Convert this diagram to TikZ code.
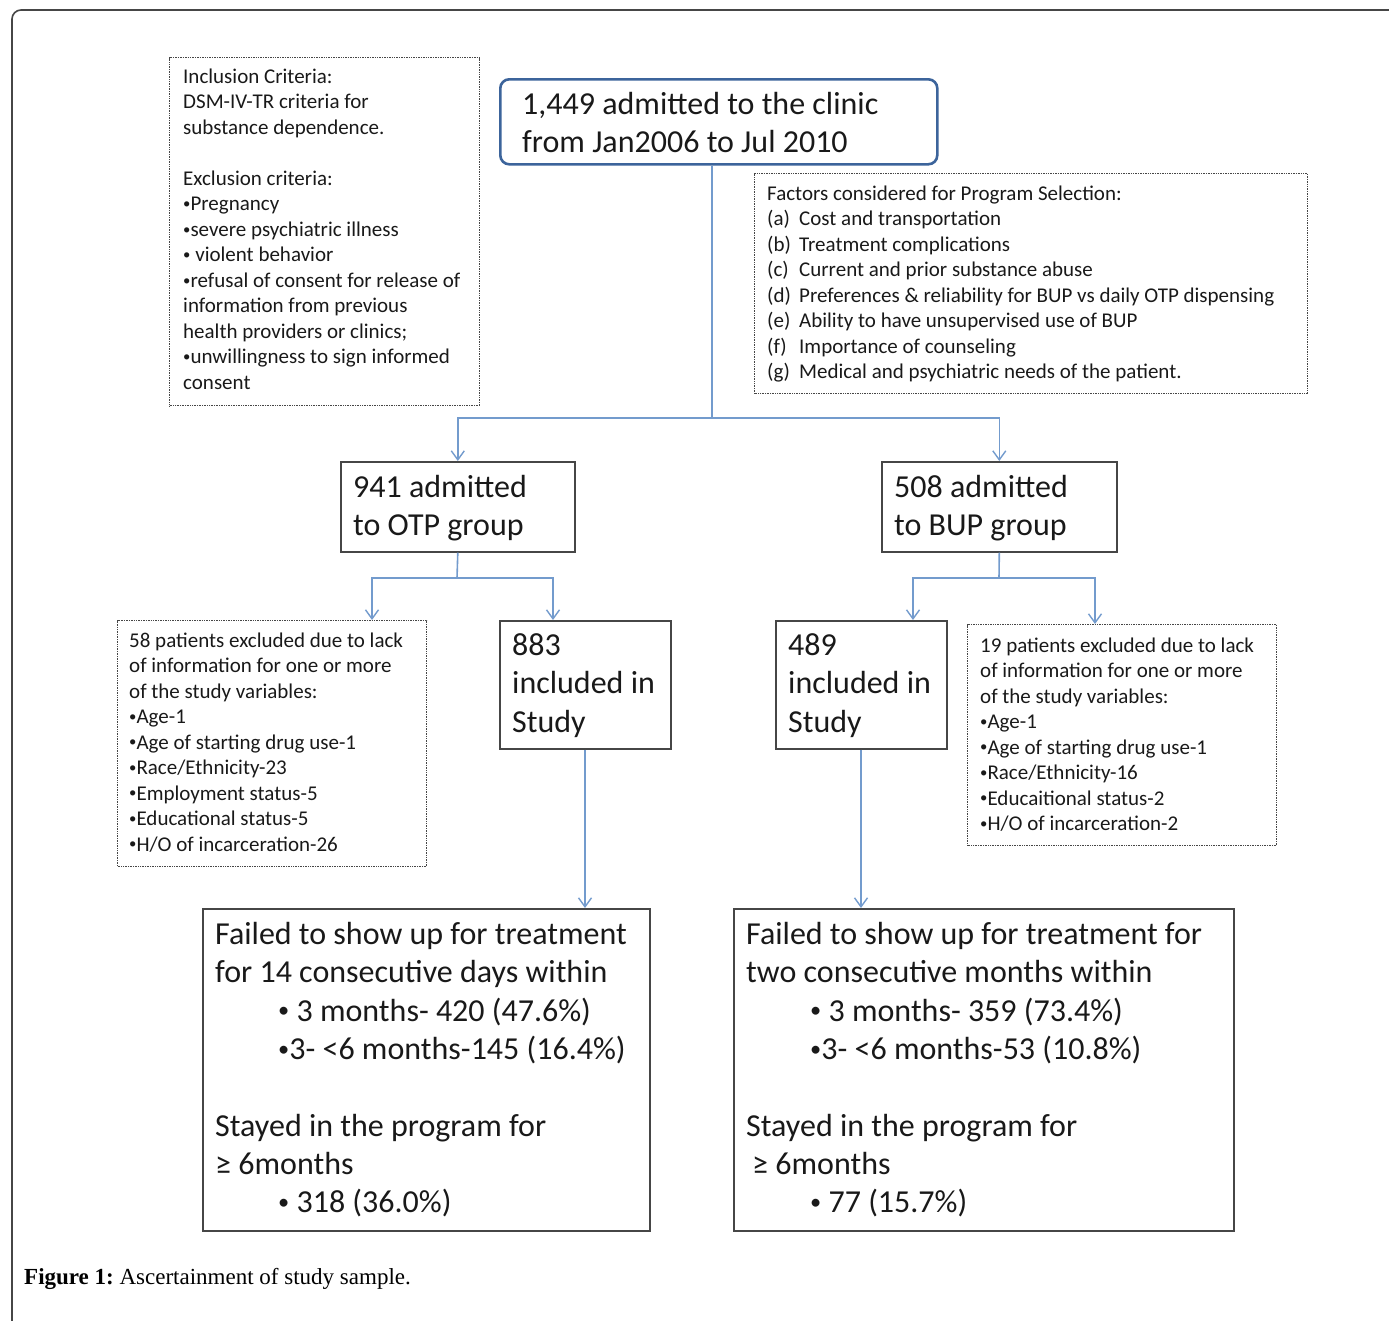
\documentclass[tikz,border=0pt]{standalone}
\usepackage{fontspec}
\usepackage{graphicx}
\setmainfont{Carlito}
\newfontfamily\capfont{Liberation Serif}
\usetikzlibrary{arrows.meta}
\definecolor{connc}{RGB}{115,155,205}
\definecolor{topblue}{RGB}{60,100,155}
\definecolor{boxgray}{RGB}{70,70,70}
\definecolor{txtc}{RGB}{25,25,25}
\newcommand\bl{\raisebox{0.1em}{\scalebox{0.7}{•}}}
\begin{document}
\begin{tikzpicture}[x=1pt,y=-1pt,
 solidbox/.style={draw=boxgray, line width=1.6pt, inner sep=0pt, anchor=north west},
 dotbox/.style={draw=boxgray, line width=1.4pt, dash pattern=on 1pt off 0.7pt, inner sep=0pt, anchor=north west},
 topbox/.style={draw=topblue, line width=2.6pt, rounded corners=9pt, inner sep=0pt, anchor=north west},
 small/.style={text=txtc, inner sep=0pt, anchor=north west, align=left, font=\fontsize{21}{25.5}\selectfont},
 big/.style={text=txtc, inner sep=0pt, anchor=north west, align=left, font=\fontsize{32}{38.3}\selectfont},
 link/.style={draw=connc, line width=1.6pt},
 arr/.style={link, -{Straight Barb[length=9pt,width=13pt,line width=1.4pt]}},
]
\useasboundingbox (0,0) rectangle (1389,1320);
\draw[boxgray, line width=1.6pt, rounded corners=9pt] (1400,10) -- (12,10) -- (12,1330);

% boxes
\node[dotbox, minimum width=310pt, minimum height=348pt] (inc) at (169,57) {};
\node[topbox, minimum width=437pt, minimum height=85pt] (top) at (499,78) {};
\node[dotbox, minimum width=553pt, minimum height=220pt] (fac) at (754,173) {};
\node[solidbox, minimum width=234pt, minimum height=90pt] (otp) at (340,461) {};
\node[solidbox, minimum width=235pt, minimum height=90pt] (bup) at (881,461) {};
\node[dotbox, minimum width=309pt, minimum height=246pt] (exl) at (117,620) {};
\node[solidbox, minimum width=171pt, minimum height=128pt] (inl) at (499,620) {};
\node[solidbox, minimum width=171pt, minimum height=128pt] (inr) at (775,620) {};
\node[dotbox, minimum width=309pt, minimum height=221pt] (exr) at (967,624) {};
\node[solidbox, minimum width=447pt, minimum height=322pt] (resl) at (202,908) {};
\node[solidbox, minimum width=500pt, minimum height=322pt] (resr) at (733,908) {};

% connectors
\coordinate (j0) at (712,418);
\draw[link] (j0 |- top.south) -- (j0);
\draw[arr] (j0) -| (otp.north);
\draw[arr] (j0) -| (bup.north);

\coordinate (j1) at (457,578);
\coordinate (j1l) at (372,578);
\coordinate (j1r) at (553,578);
\draw[link] (otp.south) -- (j1);
\draw[arr] (j1) -- (j1l) -- (j1l |- exl.north);
\draw[arr] (j1) -- (j1r) -- (j1r |- inl.north);

\coordinate (j2) at (999,578);
\coordinate (j2l) at (913,578);
\coordinate (j2r) at (1095,578);
\draw[link] (bup.south) -- (j2);
\draw[arr] (j2) -- (j2l) -- (j2l |- inr.north);
\draw[arr] (j2) -- (j2r) -- (j2r |- exr.north);

\coordinate (c1) at (585,748);
\draw[arr] (c1 |- inl.south) -- (c1 |- resl.north);
\coordinate (c2) at (861,748);
\draw[arr] (c2 |- inr.south) -- (c2 |- resr.north);

% texts
\node[small] (inct) at (183,65.15) {\strut Inclusion Criteria:\\DSM-IV-TR criteria for\\substance dependence.\\\strut\\Exclusion criteria:\\\bl Pregnancy\\\bl severe psychiatric illness\\\bl\ violent behavior\\\bl refusal of consent for release of\\information  from previous\\health providers or  clinics;\\\bl unwillingness to sign informed\\consent};

\node[big] (topt) at (522,87.2) {\strut 1,449 admitted to the clinic\\from Jan2006 to Jul 2010};

\node[small] (fact) at (767,182.15) {\strut Factors considered for Program Selection:\\
\makebox[32pt][l]{(a)}Cost and transportation\\
\makebox[32pt][l]{(b)}Treatment  complications\\
\makebox[32pt][l]{(c)}Current and prior substance abuse\\
\makebox[32pt][l]{(d)}Preferences \& reliability for  BUP vs daily OTP dispensing\\
\makebox[32pt][l]{(e)}Ability to have unsupervised use of BUP\\
\makebox[32pt][l]{(f)}Importance  of counseling\\
\makebox[32pt][l]{(g)}Medical and psychiatric needs of the patient.};

\node[big] (otpt) at (353,470.5) {\strut 941 admitted\\to OTP group};
\node[big] (bupt) at (894,470.5) {\strut 508 admitted\\to BUP group};
\node[big] (inlt) at (512,628.5) {\strut 883\\included in\\Study};
\node[big] (inrt) at (788,628.5) {\strut 489\\included in\\Study};

\node[small] (exlt) at (129,629) {\strut 58 patients excluded due to lack\\of information  for one or more\\of the study variables:\\\bl Age-1\\\bl Age of starting drug  use-1\\\bl Race/Ethnicity-23\\\bl Employment  status-5\\\bl Educational status-5\\\bl H/O of incarceration-26};
\node[small] (exrt) at (980,634) {\strut 19 patients excluded due to lack\\of information for one or more\\of the study variables:\\\bl Age-1\\\bl Age of starting drug  use-1\\\bl Race/Ethnicity-16\\\bl Educaitional status-2\\\bl H/O of incarceration-2};

\node[big] (reslt) at (215,917.5) {\strut Failed to show up for treatment\\for 14 consecutive days within\\\hspace*{63pt}\bl\ 3 months- 420 (47.6\%)\\\hspace*{63pt}\bl 3- <6 months-145 (16.4\%)\\\strut\\Stayed in the program for\\≥ 6months\\\hspace*{63pt}\bl\ 318 (36.0\%)};
\node[big] (resrt) at (746,917.5) {\strut Failed to show up for treatment for\\two consecutive months within\\\hspace*{64pt}\bl\ 3 months- 359 (73.4\%)\\\hspace*{64pt}\bl 3- <6 months-53 (10.8\%)\\\strut\\Stayed in the program for\\\hspace*{6pt}≥ 6months\\\hspace*{64pt}\bl\ 77 (15.7\%)};

\node[anchor=base west, inner sep=0pt, text=black, font=\capfont\fontsize{23}{27}\selectfont] (cap) at (24,1284) {\textbf{Figure 1:}~Ascertainment of study sample.};
\end{tikzpicture}
\end{document}
